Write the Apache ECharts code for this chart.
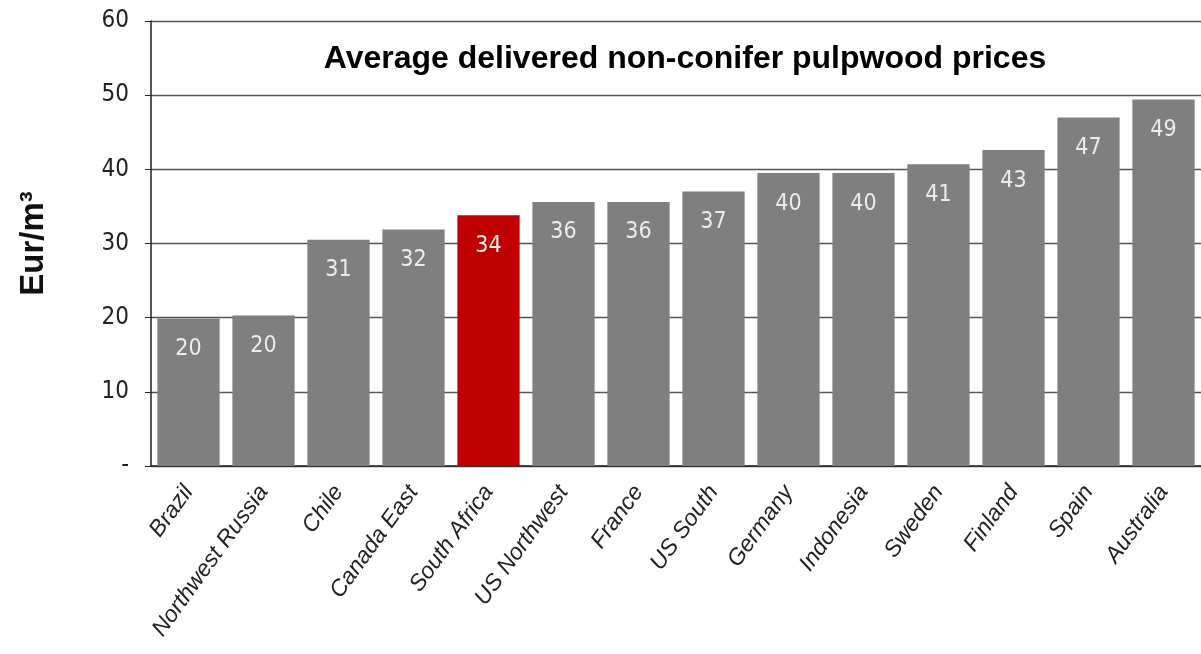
<!DOCTYPE html>
<html>
<head>
<meta charset="utf-8">
<script src="https://cdn.jsdelivr.net/npm/echarts@6/dist/echarts.min.js"></script>
<style>
  html, body { margin: 0; padding: 0; background: #fff; }
  #pulpwoodPrices { width: 1201px; height: 654px; }
</style>
</head>
<body>
<div id="pulpwoodPrices"></div>
<script>
const countries = [
  "Brazil", "Northwest Russia", "Chile", "Canada East", "South Africa",
  "US Northwest", "France", "US South", "Germany", "Indonesia",
  "Sweden", "Finland", "Spain", "Australia"
];
const prices = [19.9, 20.3, 30.5, 31.9, 33.8, 35.6, 35.6, 37.0, 39.5, 39.5, 40.7, 42.6, 47.0, 49.4];
const highlight = "South Africa";
const yTicks = [0, 10, 20, 30, 40, 50, 60];

const narrow = "Liberation Sans Narrow, DejaVu Sans Condensed, Arial Narrow, sans-serif";
const regular = "Liberation Sans, Arial, sans-serif";

const rankData = prices.map((value, i) => {
  const item = { value: value };
  if (countries[i] === highlight) {
    item.itemStyle = { color: "#c00000" };
  }
  return item;
});

let mychart = echarts.init(document.getElementById("pulpwoodPrices"));
const option = {
  animation: false,
  title: {
    text: "Average delivered non-conifer pulpwood prices",
    left: 680,
    top: 38,
    textAlign: "center",
    textStyle: {
      fontFamily: regular,
      fontSize: 32,
      fontWeight: "bold",
      color: "#000"
    }
  },
  grid: {
    left: 151,
    right: -1,
    top: 21,
    bottom: 188,
    containLabel: false
  },
  xAxis: {
    type: "category",
    data: countries,
    axisLine: {
      lineStyle: { color: "#222", width: 1.5 }
    },
    axisTick: {
      length: 6,
      lineStyle: { color: "#222" }
    },
    axisLabel: {
      rotate: 54,
      interval: 0,
      margin: 22,
      fontFamily: regular,
      fontStyle: "italic",
      fontSize: 23,
      color: "#222"
    }
  },
  yAxis: {
    type: "value",
    min: 0,
    max: 60,
    interval: 10,
    name: "Eur/m³",
    nameLocation: "middle",
    nameGap: 101,
    nameRotate: 90,
    nameTextStyle: {
      fontFamily: regular,
      fontSize: 33,
      fontWeight: "bold",
      color: "#111"
    },
    axisLine: {
      show: true,
      lineStyle: { color: "#222", width: 1.5 }
    },
    axisTick: {
      show: true,
      length: 6,
      lineStyle: { color: "#222" }
    },
    axisLabel: {
      margin: 22,
      fontFamily: narrow,
      fontSize: 24,
      color: "#222",
      formatter: function(value) {
        return yTicks.indexOf(value) === 0 ? "-" : String(value);
      }
    },
    splitLine: {
      lineStyle: { color: "#555", width: 1.3 }
    }
  },
  series: [
    {
      name: "Price",
      type: "bar",
      barCategoryGap: "17%",
      itemStyle: {
        color: "#7f7f7f"
      },
      label: {
        show: true,
        position: "insideTop",
        distance: 19,
        fontFamily: narrow,
        fontSize: 23,
        color: "#ececec",
        formatter: function(params) {
          return Math.round(params.value);
        }
      },
      data: rankData
    }
  ]
};
mychart.setOption(option);
</script>
</body>
</html>
